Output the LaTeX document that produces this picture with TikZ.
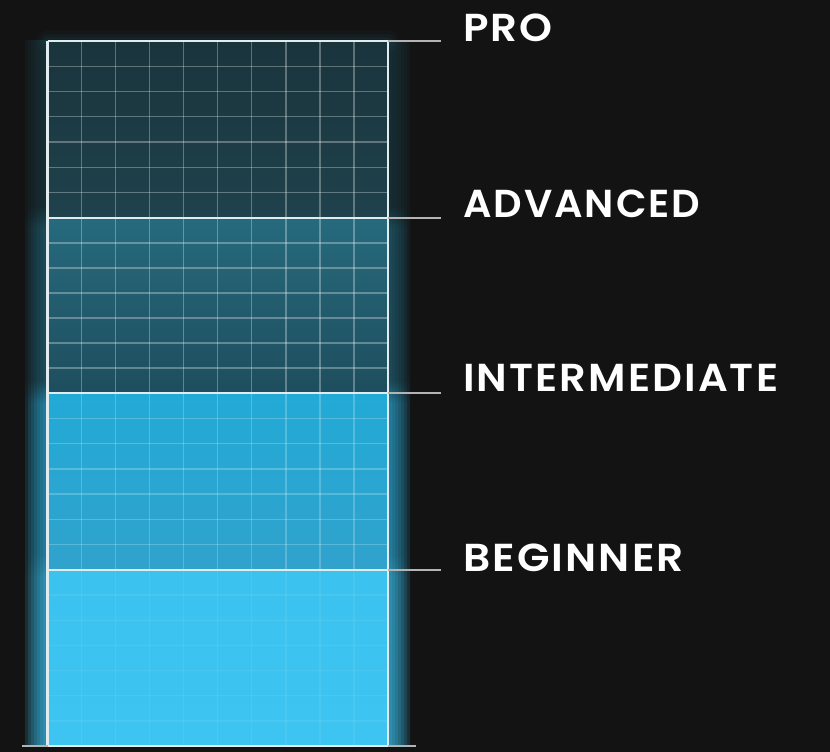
\documentclass[tikz,border=0pt]{standalone}
\usepackage{fontspec}
\setmainfont{Poppins}
\newfontfamily\labelfont{Poppins SemiBold}[LetterSpace=5]
\definecolor{bgc}{HTML}{131313}
\definecolor{gPro}{HTML}{1B3C45}
\definecolor{gAdv}{HTML}{22677A}
\definecolor{gInt}{HTML}{2BAEDD}
\definecolor{gBeg}{HTML}{3CCBF8}
\definecolor{proT}{HTML}{1A343C}
\definecolor{proB}{HTML}{1F424C}
\definecolor{advT}{HTML}{266A7D}
\definecolor{advM}{HTML}{225A6A}
\definecolor{advB}{HTML}{1E4E5E}
\definecolor{intT}{HTML}{22AAD6}
\definecolor{intM}{HTML}{2A8DB4}
\definecolor{intB}{HTML}{30A2CC}
\definecolor{begT}{HTML}{3CC2EE}
\definecolor{begB}{HTML}{3DC4F1}
\definecolor{leader}{HTML}{B4B4B4}
\definecolor{edge}{HTML}{E2ECEF}
\pgfdeclareverticalshading{glowshade}{100bp}{color(0bp)=(gBeg); color(37bp)=(gBeg); color(38.6bp)=(gInt); color(49.3bp)=(gInt); color(50.9bp)=(gAdv); color(61.7bp)=(gAdv); color(63.3bp)=(gPro); color(100bp)=(gPro)}
\tikzset{
  gridline/.style={draw=white, line width=1.3pt},
  edgeline/.style={draw=edge, line width=2.4pt},
  leaderline/.style={draw=leader, line width=2.4pt},
  glowstrip/.style={shading=glowshade, opacity=0.15},
  label/.style={anchor=base west, inner sep=0pt, text=white, font=\labelfont\fontsize{39}{39}\selectfont}
}
\begin{document}
\begin{tikzpicture}[x=1pt,y=1pt]
\useasboundingbox (0,0) rectangle (830,752);
\fill[bgc] (0,0) rectangle (830,752);
% side glows
\foreach \d in {22,19,16,13,10,7,4} {
  \shade[glowstrip] ({47.5-\d},6) rectangle (47.5,711);
  \shade[glowstrip] (388,6) rectangle ({388+\d},711);
}
% glow above the top edge
\foreach \w/\o in {22/0.05, 14/0.08, 7/0.1} {
  \draw[line width=\w pt, draw=gAdv, opacity=\o, line cap=round] (47.5,711) -- (388,711);
}
% fills
\shade[top color=proT, bottom color=proB] (47.5,711) rectangle (388,534);
\shade[top color=advT, middle color=advM, bottom color=advB] (47.5,534) rectangle (388,359);
\shade[top color=intT, middle color=intM, bottom color=intB] (47.5,359) rectangle (388,182);
\shade[top color=begT, bottom color=begB] (47.5,182) rectangle (388,6);
% grid
\foreach \t/\b/\o in {711/534/0.3, 534/359/0.3, 359/182/0.22, 182/6/0.07} {
  \foreach \k in {1,...,9} \draw[gridline, opacity=\o] ({47.5+\k*34.05},\t) -- ({47.5+\k*34.05},\b);
  \foreach \k in {1,...,6} \draw[gridline, opacity=\o] (47.5,{\t+(\b-\t)*\k/7}) -- (388,{\t+(\b-\t)*\k/7});
}
% labels
\node[label] (pro) at (463,710) {\scalebox{1.075}[1]{PRO}};
\node[label] (adv) at (463,534) {\scalebox{1.02}[1]{ADVANCED}};
\node[label] (int) at (463,360) {\scalebox{1.068}[1]{INTERMEDIATE}};
\node[label] (beg) at (463,180) {\scalebox{1.085}[1]{BEGINNER}};
% edges
\coordinate (tl) at (47.5,711); \coordinate (tr) at (388,711);
\coordinate (bl) at (47.5,6);   \coordinate (br) at (388,6);
\draw[edgeline] (tl) -- (bl);
\draw[edgeline] (tr) -- (br);
\foreach \y/\n in {711/p, 534/a, 359/i, 182/b} {
  \coordinate (L\n) at (47.5,\y);
  \coordinate (R\n) at (388,\y);
  \coordinate (E\n) at (441,\y);
  \draw[edgeline] (L\n) -- (R\n);
  \draw[leaderline] (R\n) -- (E\n);
}
\coordinate (baseL) at (22,6); \coordinate (baseR) at (416,6);
\draw[leaderline] (baseL) -- (bl);
\draw[edgeline] (bl) -- (br);
\draw[leaderline] (br) -- (baseR);
\end{tikzpicture}
\end{document}
